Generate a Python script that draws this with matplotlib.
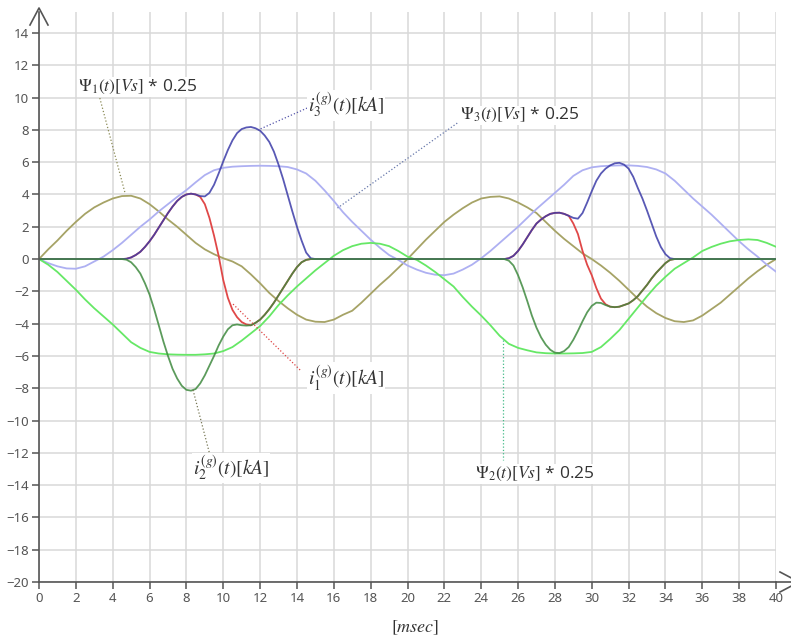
import numpy as np
import matplotlib.pyplot as plt
from matplotlib.lines import Line2D

plt.rcParams['mathtext.fontset'] = 'stix'

W, H = 791, 641

# fluxos (x0.25) amostrados a cada 0.5 ms, 0..40 ms
t_psi = np.linspace(0, 40, 81)
psi1 = [0, 0.6, 1.15, 1.75, 2.3, 2.8, 3.2, 3.5, 3.75, 3.9,
        3.92, 3.75, 3.4, 2.95, 2.45, 2.0, 1.5, 1.0, 0.6, 0.3,
        0.05, -0.15, -0.45, -0.95, -1.5, -2.1, -2.6, -3.05, -3.45, -3.75,
        -3.88, -3.9, -3.75, -3.45, -3.2, -2.7, -2.15, -1.6, -1.1, -0.55,
        0.0, 0.6, 1.2, 1.75, 2.3, 2.75, 3.15, 3.5, 3.75, 3.85,
        3.88, 3.75, 3.5, 3.2, 2.85, 2.3, 1.75, 1.25, 0.8, 0.35,
        0.0, -0.4, -0.85, -1.35, -1.9, -2.45, -2.95, -3.35, -3.65, -3.85,
        -3.9, -3.8, -3.5, -3.1, -2.7, -2.2, -1.7, -1.2, -0.75, -0.35,
        0.0]
psi2 = [0, -0.35, -0.8, -1.35, -1.9, -2.5, -3.05, -3.55, -4.05, -4.6,
        -5.15, -5.5, -5.75, -5.85, -5.9, -5.92, -5.93, -5.93, -5.9, -5.85,
        -5.7, -5.45, -5.05, -4.6, -4.15, -3.55, -2.85, -2.25, -1.7, -1.2,
        -0.7, -0.25, 0.2, 0.55, 0.8, 0.95, 1.0, 0.95, 0.8, 0.5,
        0.15, -0.05, -0.4, -0.8, -1.25, -1.7, -2.35, -2.95, -3.5, -4.1,
        -4.75, -5.25, -5.5, -5.65, -5.78, -5.83, -5.85, -5.85, -5.84, -5.82,
        -5.75, -5.45, -4.95, -4.4, -3.7, -3.0, -2.3, -1.65, -1.1, -0.6,
        -0.25, 0.1, 0.5, 0.75, 0.95, 1.1, 1.18, 1.22, 1.18, 1.0,
        0.76]
psi3 = [0, -0.25, -0.45, -0.58, -0.6, -0.45, -0.15, 0.15, 0.55, 1.0,
        1.5, 2.0, 2.45, 2.95, 3.4, 3.85, 4.27, 4.75, 5.2, 5.5,
        5.65, 5.72, 5.75, 5.77, 5.78, 5.77, 5.75, 5.7, 5.55, 5.3,
        4.85, 4.25, 3.6, 2.9, 2.3, 1.75, 1.2, 0.7, 0.25, -0.05,
        -0.4, -0.65, -0.85, -0.97, -1.0, -0.9, -0.65, -0.35, 0.05, 0.5,
        1.0, 1.5, 2.0, 2.55, 3.1, 3.6, 4.1, 4.6, 5.15, 5.5,
        5.68, 5.75, 5.78, 5.8, 5.8, 5.77, 5.7, 5.55, 5.3, 4.85,
        4.3, 3.75, 3.25, 2.75, 2.2, 1.65, 1.1, 0.6, 0.15, -0.35,
        -0.78]

# correntes: so ha conducao em 4.5..15 ms e 25..35 ms (passo 0.25 ms)
i3_a = [0, 0.02, 0.1, 0.25, 0.45, 0.75, 1.1, 1.5, 1.95, 2.4,
        2.85, 3.25, 3.6, 3.85, 4.0, 4.05, 4.0, 3.9, 3.88, 4.1,
        4.6, 5.3, 6.05, 6.75, 7.35, 7.8, 8.05, 8.15, 8.18, 8.1,
        7.95, 7.65, 7.25, 6.65, 5.85, 4.95, 3.95, 2.95, 2.0, 1.15,
        0.4, 0.05, 0]
i1_a = [0, 0.02, 0.1, 0.25, 0.45, 0.75, 1.1, 1.5, 1.95, 2.4,
        2.85, 3.25, 3.6, 3.85, 4.0, 4.05, 4.0, 3.85, 3.4, 2.55,
        1.45, 0.2, -1.3, -2.4, -3.15, -3.6, -3.9, -4.05, -4.1, -3.95,
        -3.75, -3.45, -3.1, -2.7, -2.25, -1.8, -1.35, -0.9, -0.5, -0.2,
        -0.05, 0, 0]
i2_a = [0, -0.04, -0.2, -0.5, -0.9, -1.5, -2.2, -3.1, -4.1, -5.1,
        -6.0, -6.8, -7.4, -7.85, -8.1, -8.15, -8.05, -7.7, -7.2, -6.6,
        -6.0, -5.35, -4.8, -4.35, -4.1, -4.05, -4.1, -4.12, -4.1, -3.95,
        -3.75, -3.45, -3.1, -2.7, -2.25, -1.8, -1.35, -0.9, -0.5, -0.2,
        -0.05, 0, 0]

i3_b = [0, 0, 0.05, 0.2, 0.5, 0.9, 1.35, 1.8, 2.2, 2.45,
        2.65, 2.8, 2.86, 2.87, 2.8, 2.68, 2.55, 2.5, 2.85, 3.5,
        4.2, 4.85, 5.3, 5.6, 5.8, 5.93, 5.96, 5.85, 5.6, 5.1,
        4.4, 3.75, 3.0, 2.2, 1.4, 0.75, 0.3, 0.05, 0, 0,
        0]
i1_b = [0, 0, 0.05, 0.2, 0.5, 0.9, 1.35, 1.8, 2.2, 2.45,
        2.65, 2.8, 2.86, 2.87, 2.8, 2.68, 2.2, 1.55, 0.5, -0.35,
        -1.0, -1.8, -2.45, -2.8, -2.95, -2.98, -2.95, -2.85, -2.75, -2.55,
        -2.3, -1.95, -1.6, -1.2, -0.85, -0.55, -0.25, -0.05, 0, 0,
        0]
i2_b = [0, 0, -0.1, -0.4, -1.0, -1.75, -2.6, -3.5, -4.25, -4.85,
        -5.3, -5.62, -5.8, -5.82, -5.7, -5.45, -5.0, -4.45, -3.85, -3.3,
        -2.9, -2.7, -2.72, -2.85, -2.95, -2.98, -2.95, -2.85, -2.75, -2.55,
        -2.3, -1.95, -1.6, -1.2, -0.85, -0.55, -0.25, -0.05, 0, 0,
        0]

t_i = np.concatenate([[0], np.linspace(4.5, 15, len(i3_a)),
                      np.linspace(25, 35, len(i3_b)), [40]])
i1 = np.concatenate([[0], i1_a, i1_b, [0]])
i2 = np.concatenate([[0], i2_a, i2_b, [0]])
i3 = np.concatenate([[0], i3_a, i3_b, [0]])

fig = plt.figure(figsize=(W / 100, H / 100), dpi=100)
ax = fig.add_axes([39 / W, 59 / H, 737 / W, 570 / H])
ax.set_xlim(0, 40)
ax.set_ylim(-20, 15.3)
ax.set_xticks(np.arange(0, 41, 2))
ax.set_yticks(np.arange(-20, 15, 2))
ax.grid(True, color='#d8d8d8', lw=1.1)
ax.set_axisbelow(True)
for s in ['top', 'right']:
    ax.spines[s].set_visible(False)
for s in ['left', 'bottom']:
    ax.spines[s].set_color('#555555')
    ax.spines[s].set_linewidth(1.2)
ax.tick_params(length=5, width=1.1, color='#555555', labelcolor='#555555',
               labelsize=9.5, pad=2)
for lb in ax.get_xticklabels() + ax.get_yticklabels():
    lb.set_family('Noto Sans')

lw = 1.3
ax.plot(t_psi, psi1, color='#a6a366', lw=lw)
ax.plot(t_psi, psi3, color='#aeb0f2', lw=lw)
ax.plot(t_psi, psi2, color='#66e866', lw=lw)
ax.plot(t_i, i1, color='#e04848', lw=lw)
ax.plot(t_i, i3, color='#3c3ca8', lw=lw, alpha=0.85)
ax.plot(t_i, i2, color='#3f8a3f', lw=lw, alpha=0.85)

# setas nos eixos
def fx(x, y):
    return x / W, 1 - y / H

for pts in ([(30, 25), (39, 8), (48, 25)], [(780, 572), (799, 582), (780, 592)],
            [(776, 582), (795, 582)]):
    xs, ys = zip(*[fx(*p) for p in pts])
    fig.add_artist(Line2D(xs, ys, color='#555555', lw=1.2))

# rotulos com linha de chamada pontilhada
box = dict(facecolor='white', edgecolor='none', pad=0.5)
labels = [
    (r'$\Psi_1(t)[Vs]$ * 0.25', (2.1, 10.65), (3.3, 9.97), (4.67, 4.09), '#8a8a55', 12.5),
    (r'$i_3^{(g)}(t)[kA]$', (14.6, 9.5), (14.55, 9.35), (11.9, 8.0), '#5555aa', 14),
    (r'$\Psi_3(t)[Vs]$ * 0.25', (22.85, 8.9), (22.7, 8.42), (16.2, 3.16), '#6677aa', 12.5),
    (r'$i_1^{(g)}(t)[kA]$', (14.6, -7.37), (14.17, -6.87), (10.47, -2.72), '#dd4444', 14),
    (r'$i_2^{(g)}(t)[kA]$', (8.36, -12.94), (8.36, -8.11), (9.39, -12.63), '#777755', 14),
    (r'$\Psi_2(t)[Vs]$ * 0.25', (23.66, -13.3), (25.18, -5.0), (25.18, -12.45), '#44bb88', 12.5),
]
for txt, pos, p0, p1, c, fs in labels:
    ax.plot([p0[0], p1[0]], [p0[1], p1[1]], ls=':', color=c, lw=0.9)
    ax.text(pos[0], pos[1], txt, fontsize=fs, color='#333333', family='Open Sans',
            ha='left', va='center', bbox=box, zorder=5)

fig.text(415 / W, 1 - 628 / H, r'$[msec]$', fontsize=13, color='#333333',
         ha='center', va='center')

fig.savefig('out.png', dpi=100)
